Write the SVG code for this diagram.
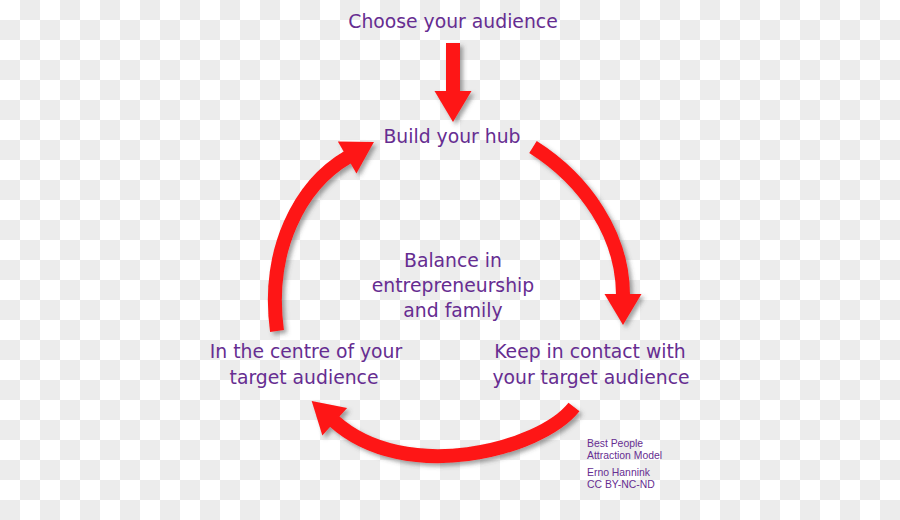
<svg xmlns="http://www.w3.org/2000/svg" width="900" height="520" viewBox="0 0 900 520">
  <style>
    .lbl { font-family: "DejaVu Sans", Verdana, sans-serif; font-size: 18.8px; fill: #662d91; text-anchor: middle; }
    .small { font-family: "Liberation Sans", Arial, sans-serif; font-size: 10.4px; fill: #662d91; }
    .arr { fill: none; stroke: #fe1414; stroke-width: 14; stroke-linecap: butt; marker-end: url(#head); }
  </style>
  <defs>
    <pattern id="checker" x="0" y="0" width="40" height="40" patternUnits="userSpaceOnUse">
      <rect width="40" height="40" fill="#ffffff"/>
      <rect x="20" y="0" width="20" height="20" fill="#ececec"/>
      <rect x="0" y="20" width="20" height="20" fill="#ececec"/>
    </pattern>
    <marker id="head" markerUnits="userSpaceOnUse" markerWidth="32" markerHeight="38" refX="0" refY="18.5" orient="auto" overflow="visible">
      <polygon points="-1,0 30,18.5 -1,37" fill="#fe1414"/>
    </marker>
    <filter id="shadow" x="-20%" y="-20%" width="140%" height="140%">
      <feDropShadow dx="3" dy="3" stdDeviation="2" flood-color="#444" flood-opacity="0.5"/>
    </filter>
  </defs>
  <rect width="900" height="520" fill="url(#checker)"/>

  <g id="connectors" filter="url(#shadow)">
    <path class="arr" d="M453,43 L453,92"/>
    <path class="arr" d="M533,147 C585,180 623,235 623,295"/>
    <path class="arr" d="M574,407 C540,450 405,485 334,421"/>
    <path class="arr" d="M277,331 C266,250 300,185 348,157"/>
  </g>

  <g id="choose"><text class="lbl" x="453" y="28">Choose your audience</text></g>
  <g id="hub"><text class="lbl" x="452" y="143">Build your hub</text></g>
  <g id="balance">
    <text class="lbl" x="453" y="267">Balance in</text>
    <text class="lbl" x="453" y="292">entrepreneurship</text>
    <text class="lbl" x="453" y="317">and family</text>
  </g>
  <g id="centre">
    <text class="lbl" x="306" y="358">In the centre of your</text>
    <text class="lbl" x="304" y="384">target audience</text>
  </g>
  <g id="contact">
    <text class="lbl" x="590" y="358">Keep in contact with</text>
    <text class="lbl" x="591" y="384">your target audience</text>
  </g>
  <g id="credits">
    <text class="small" x="587" y="447">Best People</text>
    <text class="small" x="587" y="458.5">Attraction Model</text>
    <text class="small" x="587" y="476">Erno Hannink</text>
    <text class="small" x="587" y="487.5">CC BY-NC-ND</text>
  </g>
</svg>
